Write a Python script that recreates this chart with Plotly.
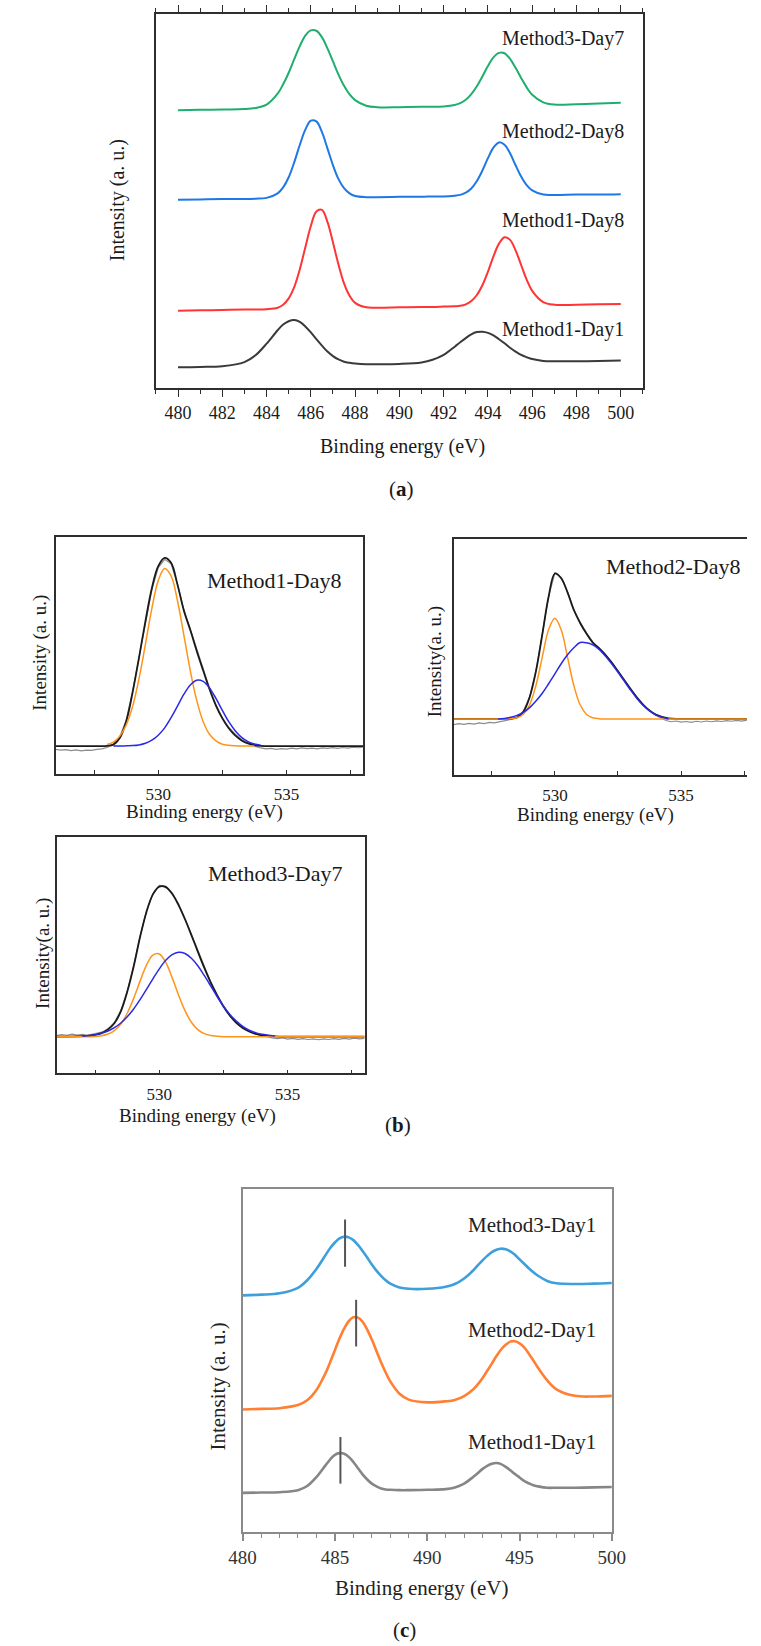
import plotly.graph_objects as go

W, H = 761, 1646
SERIF = "'Liberation Serif', 'Times New Roman', 'DejaVu Serif', serif"

# ---------------- (a) Sn 3d spectra, shared energy grid ----------------
ENERGY_SN = [480, 481, 482, 483, 483.5, 484, 484.5, 484.75, 485, 485.25, 485.5, 485.75,
             486, 486.25, 486.5, 486.75, 487, 487.25, 487.5, 487.75, 488, 488.5, 489, 490,
             491, 491.5, 492, 492.5, 492.75, 493, 493.25, 493.5, 493.75, 494, 494.25, 494.5,
             494.75, 495, 495.25, 495.5, 495.75, 496, 496.5, 497, 498, 499, 500]

A_M1_DAY1 = [.056, .057, .059, .070, .088, .119, .155, .170, .179, .182, .177, .165,
             .149, .131, .114, .098, .086, .077, .071, .068, .066, .064, .064, .065,
             .069, .076, .089, .111, .123, .134, .144, .150, .151, .148, .141, .131,
             .120, .108, .098, .089, .083, .078, .073, .072, .072, .073, .074]
A_M1_DAY8 = [.207, .208, .209, .210, .210, .211, .215, .223, .240, .270, .317, .376,
             .433, .472, .476, .444, .389, .330, .280, .247, .228, .216, .215, .216,
             .217, .217, .218, .219, .220, .224, .233, .249, .275, .311, .352, .386,
             .403, .396, .368, .329, .290, .260, .230, .223, .223, .224, .225]
A_M2_DAY8 = [.503, .504, .505, .505, .506, .508, .520, .536, .563, .603, .649, .690,
             .714, .712, .684, .640, .595, .558, .534, .520, .513, .510, .510, .511,
             .511, .512, .512, .514, .516, .522, .533, .553, .581, .614, .642, .656,
             .650, .627, .595, .565, .542, .528, .517, .516, .517, .517, .518]
A_M3_DAY7 = [.742, .743, .744, .745, .748, .757, .786, .811, .842, .878, .913, .941,
             .955, .954, .937, .907, .872, .837, .807, .784, .769, .754, .750, .750,
             .751, .751, .752, .756, .761, .770, .785, .806, .832, .860, .883, .895,
             .894, .879, .855, .828, .803, .783, .763, .757, .758, .760, .762]
A_LABELS = ["Method3-Day7", "Method2-Day8", "Method1-Day8", "Method1-Day1"]

# ---------------- (b) O 1s spectra with two fitted components ----------------
ENERGY_O = [526, 527, 527.5, 527.75, 528, 528.25, 528.5, 528.75, 529, 529.25, 529.5, 529.75,
            530, 530.25, 530.5, 530.75, 531, 531.25, 531.5, 531.75, 532, 532.25, 532.5,
            532.75, 533, 533.25, 533.5, 533.75, 534, 534.5, 535, 536, 537, 538]
RAW_ENERGY_O = [526.0, 526.2, 526.4, 526.6, 526.8, 527.0, 527.2, 527.4, 527.6, 527.8,
                528.0, 528.25, 528.5, 528.75, 529.0, 529.25, 529.5, 529.75, 530.0, 530.25,
                530.5, 530.75, 531.0, 531.25, 531.5, 531.75, 532.0, 532.25, 532.5, 532.75,
                533.0, 533.25, 533.5, 533.75, 534.0, 534.2, 534.4, 534.6, 534.8, 535.0,
                535.2, 535.4, 535.6, 535.8, 536.0, 536.2, 536.4, 536.6, 536.8, 537.0,
                537.2, 537.4, 537.6, 537.8, 538.0]

# Method1-Day8
B1_RAW = [.104, .101, .103, .099, .102, .098, .101, .100, .104, .106,
          .112, .126, .158, .228, .350, .490, .640, .778, .872, .907,
          .888, .802, .695, .612, .525, .444, .362, .294, .238, .198,
          .168, .146, .131, .118, .110, .106, .108, .104, .107, .105,
          .109, .106, .110, .107, .109, .106, .110, .108, .111, .108,
          .112, .109, .113, .111, .114]
B1_FIT = [.118, .118, .118, .118, .119, .124, .152, .222, .345, .492, .646, .785,
          .878, .913, .892, .800, .690, .608, .520, .438, .358, .289, .235,
          .193, .163, .142, .129, .122, .119, .118, .118, .118, .118, .118]
B1_PEAK1 = [None, None, None, None, .125, .135, .160, .207, .286, .403, .549, .699,
            .817, .868, .837, .732, .586, .436, .311, .222, .168, .140, .126,
            .121, .119, .118, .118, .118, None, None, None, None, None, None]
B1_PEAK2 = [None, None, None, None, None, .118, .118, .119, .120, .123, .130, .143,
            .164, .195, .238, .287, .337, .376, .396, .391, .364, .319, .269,
            .221, .183, .155, .137, .127, .122, None, None, None, None, None]

# Method2-Day8
B2_RAW = [.214, .218, .215, .219, .216, .221, .218, .223, .221, .226,
          .229, .236, .246, .270, .332, .442, .597, .757, .857, .838,
          .778, .703, .648, .603, .565, .540, .512, .479, .442, .403,
          .365, .330, .298, .272, .252, .240, .231, .226, .229, .224,
          .227, .223, .228, .225, .229, .226, .230, .227, .231, .228,
          .232, .229, .233, .230, .234]
B2_FIT = [.238, .238, .238, .238, .238, .239, .244, .268, .330, .440, .595, .755,
          .855, .835, .775, .700, .645, .600, .562, .538, .510, .477, .440,
          .402, .364, .329, .298, .274, .256, .240, .238, .238, .238, .238]
B2_PEAK1 = [.238, .238, .238, .238, .238, .239, .243, .258, .298, .380, .500, .616,
            .665, .616, .500, .380, .298, .258, .243, .239, .238, .238, .238,
            .238, .238, .238, .238, .238, .238, .238, .238, .238, .238, .238]
B2_PEAK2 = [None, None, None, .238, .240, .245, .253, .266, .286, .314, .347, .387,
            .429, .472, .510, .540, .562, .561, .552, .533, .505, .472, .436,
            .398, .360, .325, .295, .272, .255, .238, None, None, None, None]

# Method3-Day7
B3_RAW = [.160, .164, .161, .166, .162, .165, .161, .166, .170, .176,
          .188, .215, .266, .348, .455, .580, .686, .760, .795, .792,
          .764, .716, .655, .588, .518, .450, .388, .333, .285, .246,
          .215, .193, .177, .167, .160, .154, .150, .147, .150, .145,
          .148, .144, .147, .143, .146, .142, .146, .143, .147, .144,
          .148, .145, .149, .146, .148]
B3_FIT = [.155, .157, .163, .170, .186, .212, .262, .345, .452, .577, .683, .757,
          .790, .788, .760, .712, .652, .585, .515, .447, .385, .331, .283,
          .244, .214, .192, .177, .167, .161, .156, .155, .155, .155, .155]
B3_PEAK1 = [.155, .155, .156, .159, .166, .181, .208, .254, .317, .390, .458, .500,
            .505, .469, .405, .331, .265, .216, .185, .168, .160, .157, .155,
            .155, .155, .155, .155, .155, .155, .155, .155, .155, .155, .155]
B3_PEAK2 = [None, .157, .163, .169, .179, .193, .213, .239, .272, .312, .355, .400,
            .442, .478, .502, .512, .507, .487, .455, .414, .370, .325, .284,
            .249, .221, .199, .183, .172, .165, .158, None, None, None, None]

B_TICKS = [527.5, 530, 532.5, 535, 537.5]
B_TICKTEXT = ["", "530", "", "535", ""]

# ---------------- (c) Sn 3d spectra, day 1 ----------------
C_M1_DAY1 = [.114, .115, .116, .122, .134, .160, .195, .212, .225, .230, .228, .219,
             .204, .186, .168, .153, .141, .133, .127, .124, .123, .122, .122, .123,
             .125, .130, .141, .161, .172, .184, .193, .199, .201, .198, .190, .180,
             .169, .159, .149, .142, .136, .133, .129, .129, .129, .130, .131]
C_M2_DAY1 = [.357, .359, .361, .370, .384, .414, .464, .496, .530, .564, .593, .615,
             .626, .625, .613, .590, .561, .528, .495, .465, .439, .403, .386, .378,
             .381, .385, .396, .416, .431, .449, .470, .491, .513, .532, .546, .555,
             .556, .550, .538, .520, .500, .479, .442, .416, .397, .395, .397]
C_M3_DAY1 = [.690, .692, .696, .712, .734, .767, .808, .828, .844, .856, .861, .859,
             .851, .837, .819, .800, .780, .762, .747, .734, .724, .713, .709, .709,
             .715, .723, .739, .763, .778, .792, .805, .816, .823, .826, .824, .818,
             .808, .795, .782, .769, .757, .747, .732, .725, .723, .724, .726]
C_LABELS = ["Method3-Day1", "Method2-Day1", "Method1-Day1"]
# Sn 3d5/2 peak-position markers (energy, lower and upper intensity)
MARK_E = [485.55, 486.15, 485.3]
MARK_LO = [0.773, 0.541, 0.141]
MARK_HI = [0.911, 0.677, 0.277]

DARK = "#2e2e2e"
GRAY_FRAME = "#8a8a8a"


def px_x(p):
    return p / W


def px_y(p):
    return 1 - p / H


fig = go.Figure()


def add_line(x, y, ax, color, width, shape="spline"):
    fig.add_trace(go.Scatter(
        x=x, y=y, mode="lines", xaxis="x" + ax, yaxis="y" + ax,
        line=dict(color=color, width=width, shape=shape, smoothing=1.0),
        connectgaps=False, showlegend=False, hoverinfo="skip"))


# (a)
add_line(ENERGY_SN, A_M1_DAY1, "", "#3a3a3a", 2)
add_line(ENERGY_SN, A_M1_DAY8, "", "#ff3434", 2)
add_line(ENERGY_SN, A_M2_DAY8, "", "#1e78e6", 2)
add_line(ENERGY_SN, A_M3_DAY7, "", "#1eaf6e", 2)

# (b)
for ax, raw, fit, p1, p2 in [("2", B1_RAW, B1_FIT, B1_PEAK1, B1_PEAK2),
                             ("3", B2_RAW, B2_FIT, B2_PEAK1, B2_PEAK2),
                             ("4", B3_RAW, B3_FIT, B3_PEAK1, B3_PEAK2)]:
    add_line(RAW_ENERGY_O, raw, ax, "#8c8c8c", 1.2, shape="linear")
    add_line(ENERGY_O, fit, ax, "#1a1a1a", 1.8)
    add_line(ENERGY_O, p1, ax, "#ff9419", 1.5)
    add_line(ENERGY_O, p2, ax, "#2a2ae6", 1.5)

# (c)
add_line(ENERGY_SN, C_M1_DAY1, "5", "#868686", 2.6)
add_line(ENERGY_SN, C_M2_DAY1, "5", "#ff7f33", 2.6)
add_line(ENERGY_SN, C_M3_DAY1, "5", "#3d9fdc", 2.6)
for e, lo, hi in zip(MARK_E, MARK_LO, MARK_HI):
    add_line([e, e], [lo, hi], "5", "#555555", 2, shape="linear")


def plain_y(domain, mirror=True, color=DARK, width=1.6):
    return dict(domain=domain, range=[0, 1], showticklabels=False, ticks="",
                showline=True, mirror=mirror, linecolor=color, linewidth=width,
                showgrid=False, zeroline=False, fixedrange=True)


def b_x(domain, rng, anchor):
    return dict(domain=domain, anchor=anchor, range=rng, tickmode="array",
                tickvals=B_TICKS, ticktext=B_TICKTEXT, ticks="inside", ticklen=4,
                tickwidth=1.2, tickcolor=DARK, showline=True, mirror=True,
                linecolor=DARK, linewidth=1.6, showgrid=False, zeroline=False,
                ticklabelstandoff=4,
                tickfont=dict(family=SERIF, size=17, color="#1a1a1a"))


fig.update_layout(
    width=W, height=H, margin=dict(l=0, r=0, t=0, b=0),
    paper_bgcolor="white", plot_bgcolor="white", showlegend=False,
    font=dict(family=SERIF),
    xaxis=dict(domain=[px_x(147.3), px_x(652.9)], anchor="y", range=[479, 501],
               tickmode="linear", tick0=480, dtick=2, ticks="outside", ticklen=7,
               tickwidth=1.3, tickcolor=DARK,
               minor=dict(dtick=1, ticklen=4, tickwidth=1.2, tickcolor=DARK, ticks="outside"),
               mirror="allticks", showline=True, linecolor=DARK, linewidth=1.6,
               showgrid=False, zeroline=False,
               tickfont=dict(family=SERIF, size=18, color="#1a1a1a")),
    yaxis=dict(anchor="x", **plain_y([px_y(388.3), px_y(13.5)])),
    xaxis2=b_x([px_x(43.3), px_x(362.7)], [526, 538], "y2"),
    yaxis2=dict(anchor="x2", **plain_y([px_y(774), px_y(537.3)])),
    xaxis3=b_x([px_x(456.7), 1.0], [526, 537.61], "y3"),
    yaxis3=dict(anchor="x3", **plain_y([px_y(775), px_y(539.3)], mirror=False)),
    xaxis4=b_x([px_x(44.3), px_x(364)], [526, 538], "y4"),
    yaxis4=dict(anchor="x4", **plain_y([px_y(1073.3), px_y(837)])),
    xaxis5=dict(domain=[px_x(237.3), px_x(620.7)], anchor="y5", range=[480, 500],
                tickmode="linear", tick0=480, dtick=5, ticks="outside", ticklen=7,
                tickwidth=1.5, tickcolor=GRAY_FRAME,
                minor=dict(dtick=1, ticklen=4, tickwidth=1.4, tickcolor=GRAY_FRAME, ticks="outside"),
                showline=True, mirror=True, linecolor=GRAY_FRAME, linewidth=2.2,
                showgrid=False, zeroline=False,
                tickfont=dict(family=SERIF, size=19, color="#333333")),
    yaxis5=dict(anchor="x5", **plain_y([px_y(1532), px_y(1189)], color=GRAY_FRAME, width=2.2)),
)


def note(text, x, y, size, xanchor="center", angle=0, color="#1a1a1a"):
    fig.add_annotation(text=text, x=px_x(x), y=px_y(y), xref="paper", yref="paper",
                       xanchor=xanchor, yanchor="middle", showarrow=False, textangle=angle,
                       font=dict(family=SERIF, size=size, color=color))


# (a) texts
note("Binding energy (eV)", 403.5, 446.7, 20)
note("Intensity (a. u.)", 107.2, 200, 20, angle=-90)
for label, y in zip(A_LABELS, [38.3, 131.7, 220, 329.3]):
    note(label, 635, y, 20, xanchor="right")
note("(<b>a</b>)", 402, 489, 21)

# (b) texts
note("Binding energy (eV)", 198, 812, 19)
note("Intensity (a. u.)", 26.7, 653, 19, angle=-90)
note("Method1-Day8", 341.7, 580, 22, xanchor="right")
note("Binding energy (eV)", 604, 815, 19)
note("Intensity(a. u.)", 436.7, 661.7, 19, angle=-90)
note("Method2-Day8", 756, 566.7, 22, xanchor="right")
note("Binding energy (eV)", 190, 1116, 19)
note("Intensity(a. u.)", 30, 953, 19, angle=-90)
note("Method3-Day7", 343, 873, 22, xanchor="right")
note("(<b>b</b>)", 399, 1125, 21)

# (c) texts
note("Binding energy (eV)", 423, 1588, 21, color="#222222")
note("Intensity (a. u.)", 211.7, 1386.7, 21, angle=-90, color="#222222")
for label, y in zip(C_LABELS, [1225, 1330, 1442.3]):
    note(label, 606, y, 21, xanchor="right", color="#222222")
note("(<b>c</b>)", 405, 1630, 21)

fig.write_html("out.html")
